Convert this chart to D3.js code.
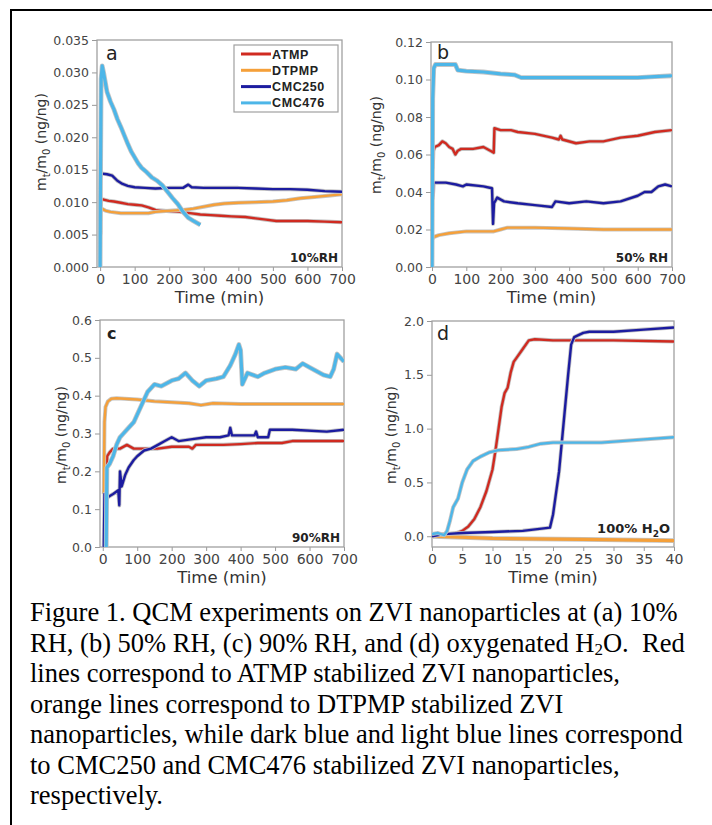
<!DOCTYPE html>
<html>
<head>
<meta charset="utf-8">
<script src="https://cdn.jsdelivr.net/npm/d3@7"></script>
<style>
  body { margin: 0; background: #fff; }
  svg text { font-family: "DejaVu Sans", sans-serif; }
</style>
</head>
<body>
<svg width="712" height="825"></svg>
<script>
const seriesNames = ["ATMP", "DTPMP", "CMC250", "CMC476"];
const seriesColors = ["#d02a20", "#f5a03a", "#1c1ca0", "#4db6e8"];

// panel a, 10% RH  [time (min), mt/m0]
const a_ATMP = [[2,0.0092],[3,0.0104],[10,0.0104],[25,0.0102],[40,0.0101],[60,0.0099],[80,0.0097],[100,0.0096],[120,0.0095],[140,0.0092],[160,0.0088],[180,0.0087],[200,0.0086],[230,0.0085],[260,0.0083],[290,0.0081],[320,0.0080],[350,0.0079],[380,0.0078],[420,0.0077],[450,0.0075],[480,0.0073],[510,0.0071],[550,0.0071],[600,0.0071],[650,0.0070],[700,0.0069]];
const a_DTPMP = [[1,0.0050],[2,0.0090],[5,0.0090],[15,0.0087],[30,0.0085],[60,0.0083],[100,0.0083],[140,0.0083],[160,0.0085],[180,0.0086],[210,0.0087],[240,0.0088],[270,0.0090],[300,0.0093],[330,0.0096],[360,0.0098],[400,0.0099],[450,0.0100],[500,0.0101],[540,0.0103],[580,0.0106],[620,0.0108],[660,0.0110],[700,0.0112]];
const a_CMC250 = [[2,0.0140],[5,0.0144],[20,0.0143],[35,0.0141],[50,0.0133],[65,0.0128],[80,0.0125],[100,0.0123],[130,0.0122],[160,0.0121],[200,0.0122],[240,0.0122],[255,0.0127],[265,0.0123],[300,0.0122],[350,0.0122],[400,0.0122],[450,0.0121],[500,0.0120],[550,0.0120],[600,0.0119],[650,0.0117],[700,0.0116]];
const a_CMC476 = [[0,0],[1,0.012],[3,0.029],[6,0.0310],[10,0.0300],[15,0.0285],[20,0.0270],[30,0.0255],[40,0.0243],[50,0.0228],[60,0.0216],[70,0.0203],[80,0.0190],[90,0.0178],[100,0.0169],[110,0.0160],[120,0.0153],[135,0.0146],[150,0.0138],[165,0.0133],[180,0.0126],[195,0.0116],[210,0.0106],[225,0.0097],[240,0.0085],[255,0.0076],[270,0.0071],[290,0.0065]];

// panel b, 50% RH
const b_ATMP = [[2,0.052],[4,0.062],[8,0.064],[20,0.065],[30,0.067],[40,0.066],[50,0.064],[60,0.063],[68,0.060],[75,0.062],[85,0.063],[120,0.063],[150,0.064],[170,0.062],[180,0.061],[182,0.074],[200,0.073],[230,0.073],[250,0.072],[300,0.071],[350,0.069],[370,0.068],[375,0.070],[380,0.068],[420,0.066],[460,0.067],[500,0.067],[550,0.069],[600,0.070],[650,0.072],[700,0.073]];
const b_DTPMP = [[2,0.015],[5,0.016],[20,0.017],[50,0.018],[100,0.019],[180,0.019],[200,0.020],[220,0.021],[300,0.021],[400,0.0205],[500,0.020],[600,0.020],[700,0.020]];
const b_CMC250 = [[2,0.036],[5,0.045],[40,0.045],[70,0.044],[90,0.043],[100,0.044],[150,0.043],[175,0.042],[178,0.023],[181,0.034],[190,0.037],[210,0.035],[250,0.034],[300,0.033],[350,0.032],[360,0.035],[400,0.034],[450,0.035],[500,0.034],[550,0.035],[600,0.038],[620,0.040],[640,0.040],[660,0.043],[680,0.044],[700,0.043]];
const b_CMC476 = [[0,0],[2,0.09],[5,0.106],[10,0.108],[40,0.108],[68,0.108],[75,0.105],[100,0.1045],[150,0.104],[200,0.103],[240,0.1025],[260,0.101],[300,0.101],[400,0.101],[500,0.101],[600,0.101],[650,0.1015],[700,0.102]];

// panel c, 90% RH
const c_ATMP = [[10,0.19],[13,0.24],[20,0.25],[30,0.26],[50,0.26],[70,0.27],[90,0.26],[120,0.26],[160,0.26],[200,0.265],[250,0.265],[260,0.26],[270,0.27],[350,0.27],[400,0.272],[450,0.275],[520,0.275],[550,0.28],[700,0.28]];
const c_DTPMP = [[3,0.14],[5,0.33],[8,0.37],[15,0.385],[25,0.392],[40,0.393],[100,0.39],[150,0.385],[250,0.38],[285,0.375],[320,0.38],[400,0.378],[550,0.378],[700,0.378]];
const c_CMC250 = [[3,0],[5,0.14],[12,0.13],[30,0.14],[45,0.15],[48,0.11],[50,0.20],[55,0.16],[65,0.19],[75,0.21],[90,0.23],[100,0.24],[120,0.255],[140,0.26],[160,0.27],[180,0.28],[200,0.29],[220,0.28],[260,0.285],[300,0.29],[340,0.29],[365,0.295],[370,0.315],[375,0.295],[440,0.295],[445,0.305],[450,0.29],[480,0.29],[485,0.31],[550,0.31],[650,0.305],[700,0.31]];
const c_CMC476 = [[10,0],[12,0.21],[20,0.22],[30,0.24],[40,0.27],[50,0.29],[60,0.30],[70,0.31],[80,0.32],[90,0.33],[100,0.35],[115,0.38],[130,0.41],[150,0.43],[170,0.425],[200,0.44],[220,0.445],[240,0.46],[260,0.44],[280,0.425],[300,0.44],[330,0.445],[350,0.45],[370,0.48],[385,0.51],[395,0.535],[400,0.52],[405,0.43],[420,0.46],[450,0.45],[470,0.46],[500,0.47],[530,0.475],[560,0.47],[580,0.485],[600,0.475],[620,0.465],[640,0.455],[660,0.45],[670,0.47],[680,0.51],[690,0.5],[700,0.49]];

// panel d, 100% H2O
const d_ATMP = [[0,0.01],[3,0.02],[4,0.03],[5,0.05],[6,0.09],[7,0.16],[8,0.27],[9,0.42],[10,0.62],[10.5,0.8],[11,1.0],[11.5,1.2],[12,1.33],[12.5,1.38],[13,1.52],[13.5,1.62],[14,1.66],[15,1.74],[16,1.82],[17,1.83],[20,1.82],[30,1.82],[40,1.81]];
const d_DTPMP = [[0,0],[10,-0.02],[25,-0.03],[40,-0.04]];
const d_CMC250 = [[0,0],[2,0.02],[5,0.03],[10,0.04],[15,0.05],[19.5,0.08],[20,0.2],[20.5,0.4],[21,0.6],[21.5,0.9],[22,1.2],[22.5,1.5],[23,1.78],[23.5,1.85],[25,1.89],[26,1.9],[30,1.9],[35,1.92],[40,1.94]];
const d_CMC476 = [[0,0.02],[1,0.03],[2,0.01],[2.5,0.05],[3,0.15],[3.5,0.27],[4.3,0.35],[5,0.5],[5.8,0.62],[6.8,0.7],[8,0.74],[9.5,0.78],[11,0.8],[14,0.81],[16,0.83],[18,0.86],[20,0.87],[25,0.87],[28,0.87],[35,0.9],[40,0.92]];

const xTicksRH = [0, 100, 200, 300, 400, 500, 600, 700];
const xTicksH2O = [0, 5, 10, 15, 20, 25, 30, 35, 40];
const yTicksA = [0, 0.005, 0.010, 0.015, 0.020, 0.025, 0.030, 0.035];
const yTicksB = [0, 0.02, 0.04, 0.06, 0.08, 0.10, 0.12];
const yTicksC = [0, 0.1, 0.2, 0.3, 0.4, 0.5, 0.6];
const yTicksD = [0, 0.5, 1.0, 1.5, 2.0];

const captionLines = [
  "Figure 1. QCM experiments on ZVI nanoparticles at (a) 10%",
  "RH, (b) 50% RH, (c) 90% RH, and (d) oxygenated H|2|O.  Red",
  "lines correspond to ATMP stabilized ZVI nanoparticles,",
  "orange lines correspond to DTPMP stabilized ZVI",
  "nanoparticles, while dark blue and light blue lines correspond",
  "to CMC250 and CMC476 stabilized ZVI nanoparticles,",
  "respectively."
];

const svg = d3.select("svg");

// outer frame of the figure box (runs off the right and bottom)
svg.append("rect").attr("x", 11).attr("y", 10).attr("width", 760).attr("height", 880)
  .attr("fill", "none").attr("stroke", "#000").attr("stroke-width", 2);

const panels = [
  {id: "a", box: [97, 342, 40, 267], xd: [-9, 700], yd: [0, 0.035], xt: xTicksRH, yt: yTicksA, fmt: ".3f",
   data: [a_ATMP, a_DTPMP, a_CMC250, a_CMC476], cond: "10%RH", letterPos: [106, 60], yLab: [46, 142], xLab: 303},
  {id: "b", box: [431, 672, 42, 267], xd: [-3, 700], yd: [0, 0.12], xt: xTicksRH, yt: yTicksB, fmt: ".2f",
   data: [b_ATMP, b_DTPMP, b_CMC250, b_CMC476], cond: "50% RH", letterPos: [437, 59], yLab: [381, 145], xLab: 303},
  {id: "c", box: [100, 344, 320, 547], xd: [-8, 700], yd: [0, 0.6], xt: xTicksRH, yt: yTicksC, fmt: ".1f",
   data: [c_ATMP, c_DTPMP, c_CMC250, c_CMC476], cond: "90%RH", letterPos: [107, 339], yLab: [66, 435], xLab: 583},
  {id: "d", box: [432, 674, 321, 547], xd: [0, 40], yd: [-0.1, 2.0], xt: xTicksH2O, yt: yTicksD, fmt: ".1f",
   data: [d_ATMP, d_DTPMP, d_CMC250, d_CMC476], cond: "H2O", letterPos: [437, 340], yLab: [396, 435], xLab: 583}
];

panels.forEach(p => drawPanel(p));

function drawPanel(p) {
  const [l, r, t, b] = p.box;
  const x = d3.scaleLinear().domain(p.xd).range([l, r]);
  const y = d3.scaleLinear().domain(p.yd).range([b, t]);
  const g = svg.append("g").attr("class", "panel-" + p.id);

  g.append("clipPath").attr("id", "clip-" + p.id)
    .append("rect").attr("x", l).attr("y", t).attr("width", r - l).attr("height", b - t);

  const yAxis = g.append("g").attr("transform", `translate(${l},0)`)
    .call(d3.axisLeft(y).tickValues(p.yt).tickFormat(d3.format(p.fmt)).tickSize(5).tickPadding(3));
  const xAxis = g.append("g").attr("transform", `translate(0,${b})`)
    .call(d3.axisBottom(x).tickValues(p.xt).tickSize(4).tickPadding(3));
  [yAxis, xAxis].forEach(ax => {
    ax.select(".domain").remove();
    ax.selectAll("line").attr("stroke", "#999");
    ax.selectAll("text").attr("fill", "#444").style("font-family", "DejaVu Sans");
  });
  yAxis.selectAll("text").style("font-size", "12.5px");
  xAxis.selectAll("text").style("font-size", "14px");

  g.append("rect").attr("x", l).attr("y", t).attr("width", r - l).attr("height", b - t)
    .attr("fill", "none").attr("stroke", "#a0a0a0").attr("stroke-width", 1.3);

  const line = d3.line().x(d => x(d[0])).y(d => y(d[1]));
  const lines = g.append("g").attr("clip-path", `url(#clip-${p.id})`);
  p.data.forEach((s, i) => {
    const w = (i === 3 && p.id !== "d") ? 3.2 : (i === 1 && p.id === "d" ? 3.2 : 2.4);
    lines.append("path").attr("d", line(s)).attr("fill", "none")
      .attr("stroke", "#c4c4c4").attr("stroke-width", w + 1.6).attr("stroke-linejoin", "round");
    lines.append("path").attr("d", line(s)).attr("fill", "none")
      .attr("stroke", seriesColors[i]).attr("stroke-width", w).attr("stroke-linejoin", "round");
  });

  g.append("text").attr("x", p.letterPos[0]).attr("y", p.letterPos[1])
    .style("font-size", p.id === "c" ? "16px" : "19px")
    .style("font-weight", p.id === "c" ? "bold" : "normal")
    .attr("fill", "#222").text(p.id);

  const cond = g.append("text").attr("x", r - 4).attr("y", p.id === "d" ? 533 : b - 5)
    .attr("text-anchor", "end").style("font-size", p.id === "d" ? "13px" : "12px")
    .style("font-weight", "bold").attr("fill", "#222");
  if (p.cond === "H2O") {
    cond.append("tspan").text("100% H");
    cond.append("tspan").attr("dy", 4).style("font-size", "9px").text("2");
    cond.append("tspan").attr("dy", -4).text("O");
  } else {
    cond.text(p.cond);
  }

  g.append("text").attr("x", (l + r) / 2).attr("y", p.xLab).attr("text-anchor", "middle")
    .style("font-size", "16.5px").attr("fill", "#333").text("Time (min)");

  const yl = g.append("text").attr("transform", `translate(${p.yLab[0]},${p.yLab[1]}) rotate(-90)`)
    .attr("text-anchor", "middle").style("font-size", "14px").attr("fill", "#333");
  yl.append("tspan").text("m");
  yl.append("tspan").attr("dy", 4).style("font-size", "10px").text("t");
  yl.append("tspan").attr("dy", -4).text("/m");
  yl.append("tspan").attr("dy", 4).style("font-size", "10px").text("0");
  yl.append("tspan").attr("dy", -4).text(" (ng/ng)");
}

// legend in panel a
const legend = svg.append("g").attr("class", "legend");
legend.append("rect").attr("x", 234).attr("y", 45).attr("width", 104).attr("height", 67)
  .attr("fill", "#fff").attr("stroke", "#a0a0a0").attr("stroke-width", 1.2);
seriesNames.forEach((name, i) => {
  const ly = 54 + i * 16.3;
  legend.append("line").attr("x1", 241).attr("x2", 271).attr("y1", ly).attr("y2", ly)
    .attr("stroke", seriesColors[i]).attr("stroke-width", 3);
  legend.append("text").attr("x", 272).attr("y", ly + 4.5).style("font-size", "12.5px")
    .style("font-family", "Liberation Sans").style("font-weight", "bold").attr("fill", "#222")
    .attr("letter-spacing", 0.6).text(name);
});

// caption
const cap = svg.append("g").attr("class", "caption");
captionLines.forEach((s, i) => {
  const tx = cap.append("text").attr("x", 30).attr("y", 621 + i * 30.5)
    .style("font-family", "Liberation Serif").style("font-size", "26.5px")
    .style("white-space", "pre").attr("fill", "#000");
  s.split("|").forEach((part, k) => {
    if (k === 1) tx.append("tspan").attr("dy", 3).style("font-size", "17px").text(part);
    else if (k === 2) tx.append("tspan").attr("dy", -3).text(part);
    else tx.append("tspan").text(part);
  });
});
</script>
</body>
</html>
